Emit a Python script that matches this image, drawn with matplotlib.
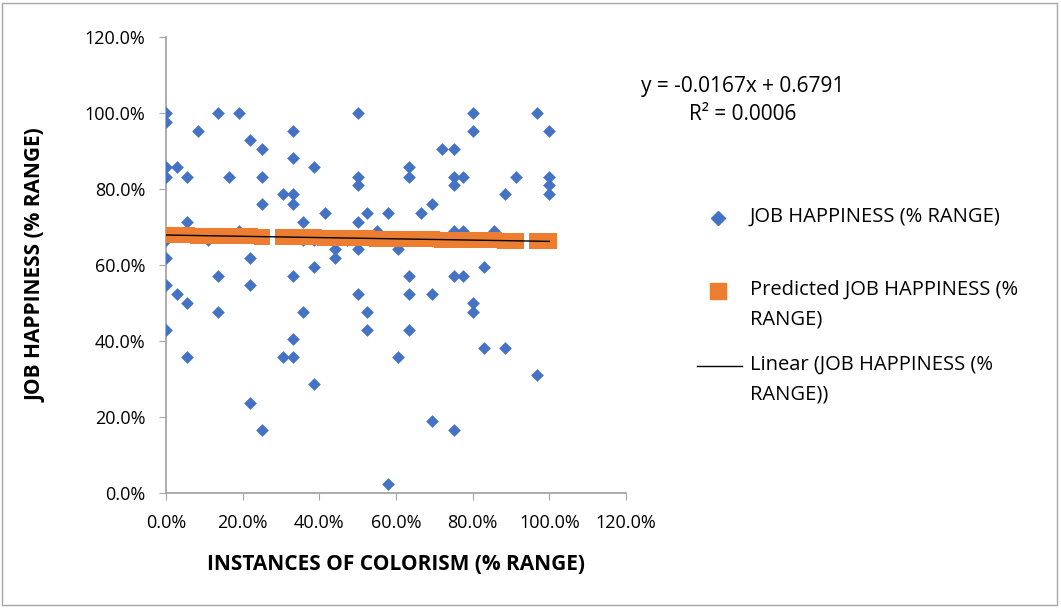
import numpy as np
import matplotlib.pyplot as plt
from matplotlib.ticker import FuncFormatter
from matplotlib.lines import Line2D

# instances of colorism (fraction) vs job happiness (fraction)
colorism = [0.0, 0.0, 0.083, 0.136, 0.19, 0.219, 0.25, 0.331, 0.331, 0.0,
            0.028, 0.0, 0.055, 0.163, 0.25, 0.304, 0.331, 0.331, 0.25, 0.055,
            0.357, 0.19, 0.0, 0.11, 0.357, 0.0, 0.219, 0.136, 0.331, 0.219,
            0.0, 0.028, 0.055, 0.136, 0.357, 0.0, 0.055, 0.331, 0.304, 0.331,
            0.219, 0.25, 0.5, 0.386, 0.5, 0.5, 0.634, 0.634, 0.415, 0.523,
            0.58, 0.5, 0.664, 0.693, 0.551, 0.386, 0.441, 0.441, 0.471, 0.5,
            0.606, 0.386, 0.634, 0.5, 0.634, 0.693, 0.523, 0.523, 0.634, 0.606,
            0.386, 0.693, 0.58, 0.801, 0.967, 0.801, 1.0, 0.719, 0.75, 0.75,
            0.775, 0.75, 0.913, 0.884, 1.0, 1.0, 1.0, 0.75, 0.775, 0.856,
            1.0, 0.829, 0.75, 0.775, 0.801, 0.801, 0.829, 0.884, 0.967, 0.75]
happiness = [1.0, 0.976, 0.952, 1.0, 1.0, 0.929, 0.905, 0.952, 0.881, 0.857,
             0.857, 0.833, 0.833, 0.833, 0.833, 0.786, 0.786, 0.762, 0.762, 0.714,
             0.714, 0.69, 0.667, 0.667, 0.667, 0.619, 0.619, 0.571, 0.571, 0.548,
             0.548, 0.524, 0.5, 0.476, 0.476, 0.429, 0.357, 0.405, 0.357, 0.357,
             0.238, 0.167, 1.0, 0.857, 0.833, 0.81, 0.857, 0.833, 0.738, 0.738,
             0.738, 0.714, 0.738, 0.762, 0.69, 0.667, 0.643, 0.619, 0.667, 0.643,
             0.643, 0.595, 0.571, 0.524, 0.524, 0.524, 0.476, 0.429, 0.429, 0.357,
             0.286, 0.19, 0.024, 1.0, 1.0, 0.952, 0.952, 0.905, 0.905, 0.833,
             0.833, 0.81, 0.833, 0.786, 0.833, 0.81, 0.786, 0.69, 0.69, 0.69,
             0.667, 0.595, 0.571, 0.571, 0.5, 0.476, 0.381, 0.381, 0.31, 0.167]

slope = -0.0167
intercept = 0.6791
r2 = 0.0006

x = np.array(colorism)
y = np.array(happiness)
predicted = slope * x + intercept

plt.rcParams['font.family'] = ['Open Sans', 'DejaVu Sans']

fig = plt.figure(figsize=(10.61, 6.08), dpi=100)
ax = fig.add_axes([0.1565, 0.189, 0.4335, 0.75])

blue = '#4472C4'
orange = '#ED7D31'

ax.scatter(x, y, marker='D', s=42, color=blue, zorder=3, linewidths=0)
ax.scatter(x, predicted, marker='s', s=125, color=orange, zorder=4, linewidths=0)
xs = np.array([0, 1.0])
ax.plot(xs, slope * xs + intercept, color='black', lw=1, zorder=5)

ax.set_xlim(0, 1.2)
ax.set_ylim(0, 1.2)
ticks = np.arange(0, 1.21, 0.2)
ax.set_xticks(ticks)
ax.set_yticks(ticks)
pct = FuncFormatter(lambda v, p: '%.1f%%' % (v * 100))
ax.xaxis.set_major_formatter(pct)
ax.yaxis.set_major_formatter(pct)
ax.tick_params(labelsize=13, color='#a6a6a6', length=5, direction='out')
ax.tick_params(axis='x', pad=10)
ax.tick_params(axis='y', pad=10)
for s in ['top', 'right']:
    ax.spines[s].set_visible(False)
for s in ['left', 'bottom']:
    ax.spines[s].set_color('#a6a6a6')
    ax.spines[s].set_linewidth(1.3)

ax.set_xlabel('INSTANCES OF COLORISM (% RANGE)', fontsize=15, fontweight='bold', labelpad=16)
ax.set_ylabel('JOB HAPPINESS (% RANGE)', fontsize=15, fontweight='bold', labelpad=27)

fig.text(0.700, 0.857, 'y = -0.0167x + 0.6791', fontsize=15, ha='center', va='center')
fig.text(0.700, 0.811, 'R² = %.4f' % r2, fontsize=15, ha='center', va='center')

# legend, drawn entry by entry so each marker sits on the first text line
labels = ['JOB HAPPINESS (% RANGE)', 'Predicted JOB HAPPINESS (%\nRANGE)',
          'Linear (JOB HAPPINESS (%\nRANGE))']
rows = [0.6414, 0.5214, 0.3980]
fig.add_artist(Line2D([0.6767], [rows[0]], marker='D', color=blue, ls='none',
                      markersize=7, transform=fig.transFigure))
fig.add_artist(Line2D([0.6767], [rows[1]], marker='s', color=orange, ls='none',
                      markersize=11, transform=fig.transFigure))
fig.add_artist(Line2D([0.657, 0.699], [rows[2], rows[2]], color='black', lw=1,
                      transform=fig.transFigure))
for lab, r in zip(labels, rows):
    fig.text(0.7069, r + 0.019, lab, fontsize=14.5, ha='left', va='top',
             linespacing=1.7)

border = plt.Rectangle((0.002, 0.005), 0.994, 0.99, transform=fig.transFigure,
                       fill=False, edgecolor='#a6a6a6', lw=1)
fig.patches.append(border)

fig.savefig('out.png', dpi=100)
